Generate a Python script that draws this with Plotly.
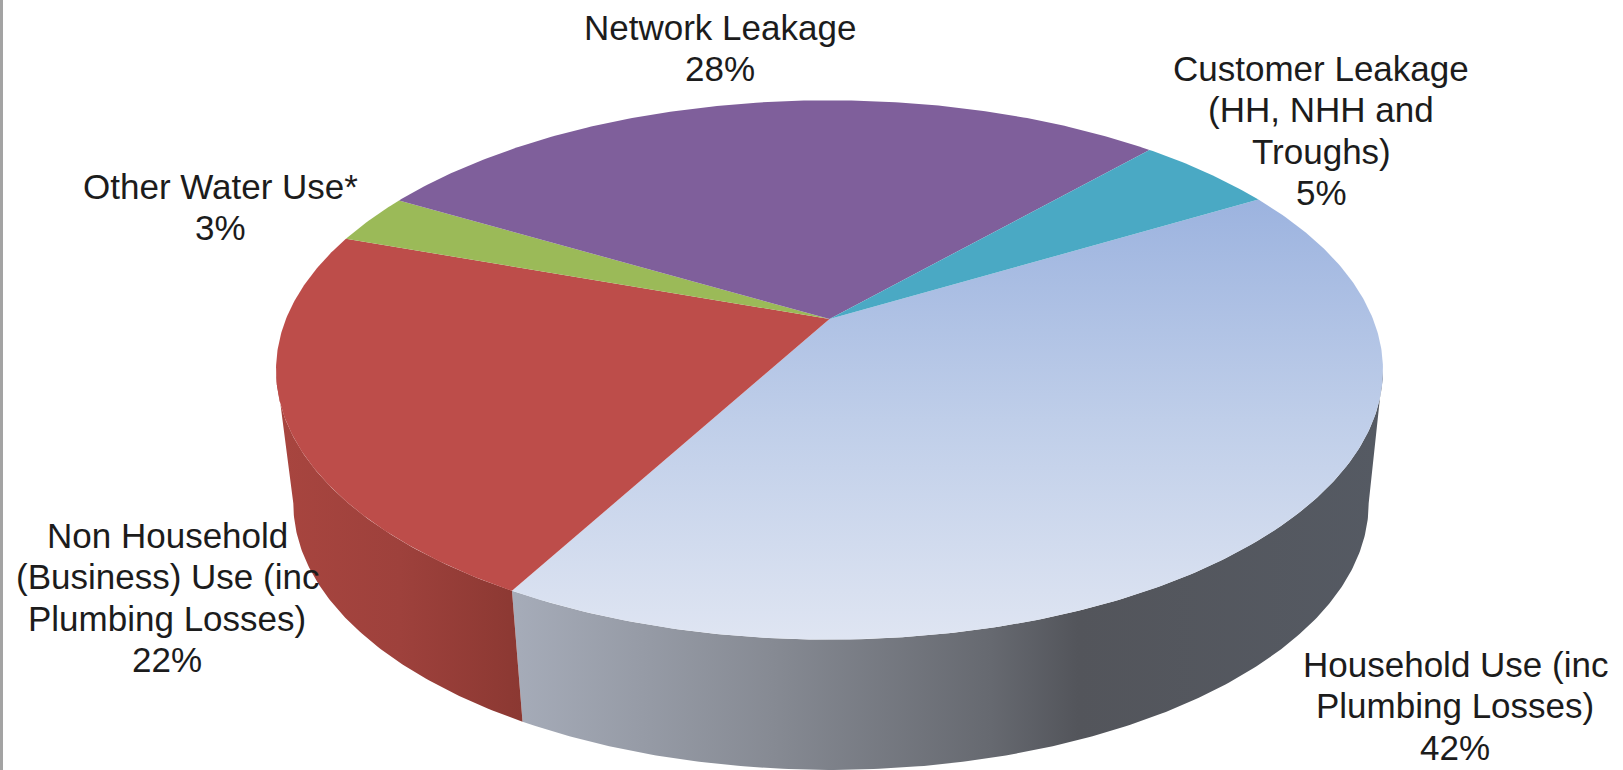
import numpy as np
import plotly.graph_objects as go

# --- data -----------------------------------------------------------------
categories = ["Household Use (inc Plumbing Losses)",
              "Non Household (Business) Use (inc Plumbing Losses)",
              "Other Water Use*",
              "Network Leakage",
              "Customer Leakage (HH, NHH and Troughs)"]
values = [41.5, 22.2, 3.0, 28.4, 4.9]
label_lines = [["Household Use (inc", "Plumbing Losses)"],
               ["Non Household", "(Business) Use (inc", "Plumbing Losses)"],
               ["Other Water Use*"],
               ["Network Leakage"],
               ["Customer Leakage", "(HH, NHH and", "Troughs)"]]

# --- styling and layout ---------------------------------------------------
W, H = 1623, 770
FIRST_ANGLE = 59.8
K = 0.189
TOP = dict(cx=829.5, cy=319.0, a=543.5, b=260.0)
BOTTOM = dict(cx=831.0, cy=453.0, a=528.0, b=257.0)
top_fills = [None, "#BD4D4A", "#9BBA58", "#7F5F9B", "#4AA9C4"]
blue_top_scale = [[0, "#DFE5F2"], [0.5, "#BFCEE9"], [1, "#9CB3DF"]]
blue_wall_scale = [[0, "#A6ACB9"], [0.3, "#868A93"], [0.55, "#666970"],
                   [0.65, "#53555B"], [1, "#555A63"]]
red_wall_scale = [[0, "#A8453F"], [0.5, "#9E413C"], [1, "#8B3832"]]
label_anchor = [(1455, 664), (167, 535), (220, 186), (720, 27), (1321, 68)]
LINE_STEP = 41.5
FONT = dict(family="Liberation Sans, Arial, sans-serif", size=35, color="#1C1C1C")


def project(theta_deg, g):
    t = np.radians(theta_deg)
    u, v = np.sin(t), -np.cos(t)
    w = 1 - K * v
    return g["cx"] + g["a"] * u / w, g["cy"] + g["b"] * v / w


def arc(a0, a1):
    return np.linspace(a0, a1, int(abs(a1 - a0) * 2) + 2)


edges = FIRST_ANGLE + np.concatenate([[0], np.cumsum(values)]) * 3.6
right_tangent = np.degrees(np.arccos(-K))
left_tangent = 360 - right_tangent

fig = go.Figure()


def wall(a0, a1, scale):
    bx, by = project(arc(a0, a1), BOTTOM)
    tx, ty = project(arc(a1, a0), TOP)
    fig.add_trace(go.Scatter(
        x=np.concatenate([bx, tx]), y=np.concatenate([by, ty]),
        mode="lines", line=dict(width=0), fill="toself",
        fillgradient=dict(type="horizontal", colorscale=scale),
        hoverinfo="skip", showlegend=False))


# Visible side walls: the household slice and the non-household slice
wall(right_tangent, edges[1], blue_wall_scale)
wall(edges[1], left_tangent, red_wall_scale)

# Top faces
for i, name in enumerate(categories):
    ax, ay = project(arc(edges[i], edges[i + 1]), TOP)
    xs = np.concatenate([[TOP["cx"]], ax, [TOP["cx"]]])
    ys = np.concatenate([[TOP["cy"]], ay, [TOP["cy"]]])
    style = dict(fillcolor=top_fills[i]) if top_fills[i] else dict(
        fillgradient=dict(type="vertical", colorscale=blue_top_scale))
    fig.add_trace(go.Scatter(x=xs, y=ys, mode="lines", line=dict(width=0),
                             fill="toself", name=name, hoverinfo="skip",
                             showlegend=False, **style))

# Labels, one annotation per line
annotations = []
for lines, value, (lx, ly) in zip(label_lines, values, label_anchor):
    for j, text in enumerate(lines + [f"{int(value + 0.5)}%"]):
        annotations.append(dict(x=lx, y=ly + j * LINE_STEP, xref="x", yref="y",
                                text=text, showarrow=False, xanchor="center",
                                yanchor="middle", font=FONT))

fig.update_layout(
    width=W, height=H, margin=dict(l=0, r=0, t=0, b=0),
    paper_bgcolor="white", plot_bgcolor="white",
    xaxis=dict(range=[0, W], visible=False, fixedrange=True),
    yaxis=dict(range=[H, 0], visible=False, fixedrange=True),
    annotations=annotations,
    shapes=[dict(type="line", xref="x", yref="y", x0=1.5, x1=1.5, y0=0, y1=H,
                 line=dict(color="#A3A3A3", width=3))],
)

fig.write_html("out.html", config=dict(displayModeBar=False),
               post_script="document.body.style.margin='0';document.body.style.overflow='hidden';")
